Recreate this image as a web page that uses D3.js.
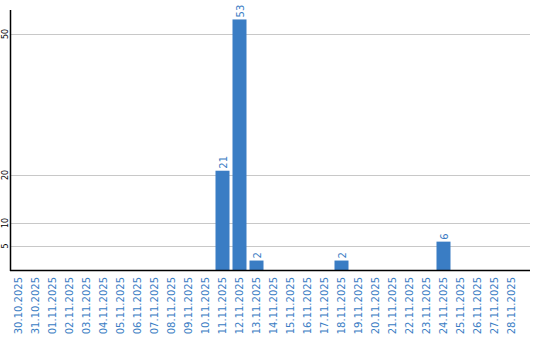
<!DOCTYPE html>
<html><head><meta charset="utf-8">
<script src="https://cdn.jsdelivr.net/npm/d3@7"></script>
<style>body{margin:0;background:#fff}svg{display:block}</style>
</head><body>
<svg id="c" width="540" height="340"></svg>
<script>
const categories = ["30.10.2025","31.10.2025","01.11.2025","02.11.2025","03.11.2025","04.11.2025","05.11.2025","06.11.2025","07.11.2025","08.11.2025","09.11.2025","10.11.2025","11.11.2025","12.11.2025","13.11.2025","14.11.2025","15.11.2025","16.11.2025","17.11.2025","18.11.2025","19.11.2025","20.11.2025","21.11.2025","22.11.2025","23.11.2025","24.11.2025","25.11.2025","26.11.2025","27.11.2025","28.11.2025"];
const values = [0,0,0,0,0,0,0,0,0,0,0,0,21,53,2,0,0,0,0,2,0,0,0,0,0,6,0,0,0,0];
const yTicks = [5,10,20,50];

const svg = d3.select("#c");
const blue = "#3a7dc4";
const x = d3.scaleBand().domain(categories).range([10,520]).paddingInner(3/17).paddingOuter(1.5/17);
const y = d3.scaleLinear().domain([0,55]).range([270,10]);

// gridlines
svg.append("g").selectAll("line").data(yTicks).join("line")
  .attr("x1",11).attr("x2",530)
  .attr("y1",d=>Math.round(y(d))+0.5).attr("y2",d=>Math.round(y(d))+0.5)
  .attr("stroke","#c8c8c8").attr("stroke-width",1);

// y tick labels
svg.append("g").selectAll("text").data(yTicks).join("text")
  .attr("transform",d=>`translate(8,${Math.round(y(d))}) rotate(-90)`)
  .attr("text-anchor","middle")
  .attr("font-family","DejaVu Sans").attr("font-size",8).attr("fill","#000")
  .text(d=>d);

// bars
const data = categories.map((c,i)=>({c,v:values[i]}));
svg.append("g").selectAll("rect").data(data.filter(d=>d.v>0)).join("rect")
  .attr("x",d=>x(d.c)).attr("width",x.bandwidth())
  .attr("y",d=>y(d.v)).attr("height",d=>y(0)-y(d.v))
  .attr("fill",blue);

// value labels
svg.append("g").selectAll("text").data(data.filter(d=>d.v>0)).join("text")
  .attr("transform",d=>`translate(${x(d.c)+x.bandwidth()/2+4},${y(d.v)-2}) rotate(-90)`)
  .attr("text-anchor","start")
  .attr("font-family","DejaVu Sans").attr("font-size",10).attr("fill",blue)
  .text(d=>d.v);

// x labels
svg.append("g").selectAll("text").data(categories).join("text")
  .attr("transform",d=>`translate(${x(d)+x.bandwidth()/2+3.5},277) rotate(-90)`)
  .attr("text-anchor","end")
  .attr("font-family","DejaVu Sans").attr("font-size",10).attr("fill",blue)
  .text(d=>d);

// axes
svg.append("line").attr("x1",10.5).attr("x2",10.5).attr("y1",10).attr("y2",271)
  .attr("stroke","#000").attr("stroke-width",1.5);
svg.append("line").attr("x1",10).attr("x2",530).attr("y1",270.5).attr("y2",270.5)
  .attr("stroke","#000").attr("stroke-width",1.5);
</script>
</body></html>
